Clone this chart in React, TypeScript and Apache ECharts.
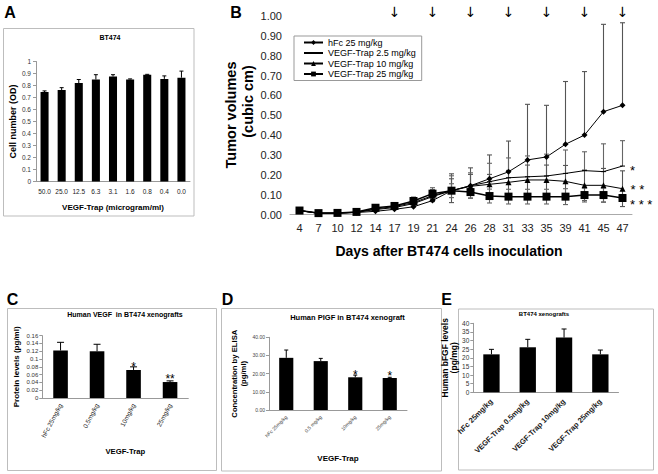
import React, { useEffect, useRef } from 'react';
import * as echarts from 'echarts';

const FONT = '"Liberation Sans", Arial, Helvetica, sans-serif';

// ---------- Panel A ----------
const aCategories = ['50.0', '25.0', '12.5', '6.3', '3.1', '1.6', '0.8', '0.4', '0.0'];
const aValues = [0.745, 0.762, 0.82, 0.85, 0.875, 0.85, 0.89, 0.855, 0.865];
const aErrors = [0.01, 0.02, 0.03, 0.04, 0.015, 0.005, 0.003, 0.025, 0.055];

// ---------- Panel B ----------
const bDays = ['4', '7', '10', '12', '14', '17', '19', '21', '24', '26', '28', '31', '33', '35', '39', '41', '45', '47'];
const bDoseDays = ['17', '21', '26', '31', '35', '41', '47'];
const bNames = ['hFc 25 mg/kg', 'VEGF-Trap 2.5 mg/kg', 'VEGF-Trap 10 mg/kg', 'VEGF-Trap 25 mg/kg'];
const bHfc = [0.02, 0.006, 0.006, 0.01, 0.016, 0.026, 0.039, 0.07, 0.12, 0.145, 0.18, 0.215, 0.275, 0.29, 0.354, 0.4, 0.518, 0.55];
const bTrap2p5 = [0.02, 0.006, 0.007, 0.011, 0.025, 0.035, 0.055, 0.09, 0.12, 0.145, 0.165, 0.185, 0.19, 0.194, 0.207, 0.221, 0.216, 0.244];
const bTrap10 = [0.02, 0.006, 0.007, 0.012, 0.028, 0.04, 0.06, 0.095, 0.12, 0.142, 0.152, 0.162, 0.174, 0.174, 0.167, 0.147, 0.147, 0.13];
const bTrap25 = [0.02, 0.007, 0.008, 0.013, 0.034, 0.043, 0.068, 0.105, 0.12, 0.113, 0.093, 0.09, 0.09, 0.09, 0.09, 0.098, 0.098, 0.083];
const bHfcErr = [0.005, 0.003, 0.003, 0.004, 0.006, 0.012, 0.018, 0.03, 0.085, 0.09, 0.12, 0.155, 0.28, 0.26, 0.316, 0.32, 0.44, 0.416];
const bTrap2p5Err = [0.005, 0.003, 0.003, 0.004, 0.008, 0.015, 0.02, 0.03, 0.075, 0.065, 0.093, 0.1, 0.105, 0.11, 0.118, 0.095, 0.14, 0.128];
const bTrap10Err = [0.005, 0.003, 0.003, 0.004, 0.008, 0.015, 0.02, 0.03, 0.06, 0.06, 0.05, 0.06, 0.075, 0.075, 0.08, 0.077, 0.085, 0.09];
const bTrap25Err = [0.005, 0.003, 0.003, 0.004, 0.008, 0.015, 0.02, 0.03, 0.035, 0.03, 0.035, 0.037, 0.037, 0.037, 0.04, 0.035, 0.035, 0.01];
const bStars = ['', '*', '* *', '* * *'];

// ---------- Panel C ----------
const cCategories = ['hFc 25mg/kg', '0.5mg/kg', '10mg/kg', '25mg/kg'];
const cValues = [0.122, 0.12, 0.072, 0.041];
const cErrors = [0.021, 0.018, 0.008, 0.003];
const cStars = ['', '', '*', '**'];

// ---------- Panel D ----------
const dCategories = ['hFc 25mg/kg', '0.5 mg/kg', '10mg/kg', '25mg/kg'];
const dValues = [28.7, 26.9, 18.0, 17.6];
const dErrors = [4.3, 1.5, 1.2, 0.4];
const dStars = ['', '', '*', '*'];

// ---------- Panel E ----------
const eCategories = ['hFc 25mg/kg', 'VEGF-Trap 0.5mg/kg', 'VEGF-Trap 10mg/kg', 'VEGF-Trap 25mg/kg'];
const eValues = [22.0, 26.1, 31.7, 22.0];
const eErrors = [2.9, 4.6, 5.0, 2.5];

function errorSeries(xIdx: number, yIdx: number, values: number[], errors: number[], cap: number, color: string, width: number, both: boolean, z = 3) {
  return {
    type: 'custom',
    xAxisIndex: xIdx,
    yAxisIndex: yIdx,
    silent: true,
    z,
    encode: { x: 0, y: 1 },
    data: values.map((v, i) => [i, v, errors[i]]),
    renderItem: (params: any, api: any) => {
      const i = api.value(0);
      const v = api.value(1);
      const e = api.value(2);
      const hi = api.coord([i, v + e]);
      const lo = api.coord([i, both ? v - e : v]);
      const h = cap / 2;
      const style = { stroke: color, lineWidth: width };
      const children: any[] = [
        { type: 'line', shape: { x1: hi[0], y1: hi[1], x2: lo[0], y2: lo[1] }, style },
        { type: 'line', shape: { x1: hi[0] - h, y1: hi[1], x2: hi[0] + h, y2: hi[1] }, style },
      ];
      if (both) children.push({ type: 'line', shape: { x1: lo[0] - h, y1: lo[1], x2: lo[0] + h, y2: lo[1] }, style });
      return { type: 'group', children };
    },
  };
}

function starBars(values: number[], stars: string[], fontSize: number, offsetY: number) {
  return values.map((v, i) =>
    stars[i]
      ? { value: v, label: { show: true, formatter: stars[i], position: 'top', distance: 0, offset: [0, offsetY], fontSize, color: '#000', fontFamily: FONT } }
      : v
  );
}

function withEndLabel(values: number[], text: string, distance: number, offsetY: number) {
  return values.map((v, i) =>
    i === values.length - 1 && text
      ? { value: v, label: { show: true, formatter: text, position: 'right', distance, offset: [0, offsetY], fontSize: 13, color: '#000', fontFamily: FONT } }
      : v
  );
}

const grayAxis = { lineStyle: { color: '#999', width: 1 } };

function txt(text: string, x: number, y: number, fontSize: number, bold: boolean, rotation = 0) {
  return {
    type: 'text',
    x,
    y,
    rotation,
    silent: true,
    style: {
      text,
      fontSize,
      fontWeight: bold ? 'bold' : 'normal',
      fontFamily: FONT,
      fill: '#000',
      textAlign: 'center',
      textVerticalAlign: 'middle',
      align: 'center',
      verticalAlign: 'middle',
    },
  };
}

function box(x: number, y: number, w: number, h: number) {
  return { type: 'rect', silent: true, z: -1, shape: { x, y, width: w, height: h }, style: { fill: 'none', stroke: '#bdbdbd', lineWidth: 1 } };
}

export default function App() {
  const ref = useRef<HTMLDivElement>(null);
  useEffect(() => {
    if (!ref.current) return;
    const chart = echarts.init(ref.current, null, { renderer: 'svg' });
    const option: any = {
      animation: false,
      backgroundColor: '#fff',
      textStyle: { fontFamily: FONT },
      grid: [
        { left: 36, top: 61.5, width: 154, height: 120 },
        { left: 290, top: 16, width: 342, height: 198.5 },
        { left: 42.3, top: 335.7, width: 146, height: 62.3 },
        { left: 269, top: 337.3, width: 138, height: 72.7 },
        { left: 473.3, top: 323.3, width: 145.2, height: 69 },
      ],
      legend: {
        data: [
          { name: bNames[0] },
          { name: bNames[1], itemStyle: { opacity: 0 } },
          { name: bNames[2] },
          { name: bNames[3] },
        ],
        left: 294,
        top: 36,
        orient: 'vertical',
        itemWidth: 19,
        itemHeight: 6,
        itemGap: 1.5,
        padding: [2, 6, 2, 9],
        borderColor: '#999',
        borderWidth: 1,
        backgroundColor: '#fff',
        selectedMode: false,
        textStyle: { fontSize: 9, color: '#000', fontFamily: FONT },
      },
      xAxis: [
        {
          gridIndex: 0, type: 'category', data: aCategories,
          axisLine: grayAxis, axisTick: { length: 3, lineStyle: { color: '#999' } },
          axisLabel: { interval: 0, fontSize: 6.5, color: '#222', margin: 6 },
          name: 'VEGF-Trap (microgram/ml)', nameLocation: 'middle', nameGap: 22,
          nameTextStyle: { fontSize: 8, fontWeight: 'bold', color: '#000' },
        },
        {
          gridIndex: 1, type: 'category', data: bDays,
          axisLine: { lineStyle: { color: '#aaa' } }, axisTick: { length: 4, lineStyle: { color: '#aaa' } },
          axisLabel: { interval: 0, fontSize: 11, color: '#222', margin: 8 },
          name: 'Days after BT474 cells inoculation', nameLocation: 'middle', nameGap: 29,
          nameTextStyle: { fontSize: 14, fontWeight: 'bold', color: '#000', padding: [0, 24, 0, 0] },
        },
        {
          gridIndex: 2, type: 'category', data: cCategories,
          axisLine: grayAxis, axisTick: { length: 3, lineStyle: { color: '#999' } },
          axisLabel: { interval: 0, rotate: 62, fontSize: 6.5, color: '#222', margin: 6 },
          name: 'VEGF-Trap', nameLocation: 'middle', nameGap: 49,
          nameTextStyle: { fontSize: 7.7, fontWeight: 'bold', color: '#000', padding: [0, 0, 0, 20] },
        },
        {
          gridIndex: 3, type: 'category', data: dCategories,
          axisLine: grayAxis, axisTick: { length: 3, lineStyle: { color: '#999' } },
          axisLabel: { interval: 0, rotate: 45, fontSize: 5, color: '#444', margin: 6 },
          name: 'VEGF-Trap', nameLocation: 'middle', nameGap: 44,
          nameTextStyle: { fontSize: 8, fontWeight: 'bold', color: '#000' },
        },
        {
          gridIndex: 4, type: 'category', data: eCategories,
          axisLine: grayAxis, axisTick: { length: 3, lineStyle: { color: '#999' } },
          axisLabel: { interval: 0, rotate: 45, fontSize: 7.5, fontWeight: 'bold', color: '#222', margin: 8 },
        },
        {
          gridIndex: 1, type: 'category', position: 'top', data: bDays,
          axisLine: { show: false }, axisTick: { show: false },
          axisLabel: {
            interval: 0, fontSize: 14, color: '#000', margin: -3,
            fontFamily: '"DejaVu Sans", sans-serif',
            formatter: (v: string) => (bDoseDays.includes(v) ? '↓' : ''),
          },
        },
      ],
      yAxis: [
        {
          gridIndex: 0, type: 'value', min: 0, max: 1, interval: 0.1,
          axisLine: { show: true, ...grayAxis }, axisTick: { show: true, length: 3, lineStyle: { color: '#999' } },
          splitLine: { show: false },
          axisLabel: { fontSize: 6.5, color: '#333', margin: 5 },
          name: 'Cell number (OD)', nameLocation: 'middle', nameGap: 19,
          nameTextStyle: { fontSize: 9, fontWeight: 'bold', color: '#000' },
        },
        {
          gridIndex: 1, type: 'value', min: 0, max: 1, interval: 0.1,
          axisLine: { show: false }, axisTick: { show: false }, splitLine: { show: false },
          axisLabel: { fontSize: 11, color: '#222', margin: 8, formatter: (v: number) => v.toFixed(2) },
        },
        {
          gridIndex: 2, type: 'value', min: 0, max: 0.16, interval: 0.02,
          axisLine: { show: true, ...grayAxis }, axisTick: { show: true, length: 3, lineStyle: { color: '#999' } },
          splitLine: { show: false },
          axisLabel: { fontSize: 6, color: '#333', margin: 4 },
          name: 'Protein levels (pg/ml)', nameLocation: 'middle', nameGap: 22,
          nameTextStyle: { fontSize: 8, fontWeight: 'bold', color: '#000' },
        },
        {
          gridIndex: 3, type: 'value', min: 0, max: 40, interval: 10,
          axisLine: { show: true, ...grayAxis }, axisTick: { show: true, length: 3, lineStyle: { color: '#999' } },
          splitLine: { show: false },
          axisLabel: { fontSize: 5, color: '#444', margin: 4, formatter: (v: number) => v.toFixed(2) },
          name: 'Concentration by ELISA\n(pg/ml)', nameLocation: 'middle', nameGap: 16,
          nameTextStyle: { fontSize: 7.7, fontWeight: 'bold', color: '#000', lineHeight: 9.5 },
        },
        {
          gridIndex: 4, type: 'value', min: 0, max: 40, interval: 5,
          axisLine: { show: true, ...grayAxis }, axisTick: { show: true, length: 3, lineStyle: { color: '#999' } },
          splitLine: { show: false },
          axisLabel: { fontSize: 6.5, color: '#333', margin: 4 },
          name: 'Human bFGF levels\n(pg/mg)', nameLocation: 'middle', nameGap: 12,
          nameTextStyle: { fontSize: 8.5, fontWeight: 'bold', color: '#000', lineHeight: 9 },
        },
      ],
      series: [
        // Panel A
        { type: 'bar', xAxisIndex: 0, yAxisIndex: 0, data: aValues, barWidth: '47%', itemStyle: { color: '#000' } },
        errorSeries(0, 0, aValues, aErrors, 4, '#000', 1, false),
        // Panel B
        errorSeries(1, 1, bHfc, bHfcErr, 5, '#555', 1.1, false, 1),
        errorSeries(1, 1, bTrap2p5, bTrap2p5Err, 5, '#666', 1.1, false, 1),
        errorSeries(1, 1, bTrap10, bTrap10Err, 5, '#555', 1.1, true, 1),
        errorSeries(1, 1, bTrap25, bTrap25Err, 5, '#666', 1.1, true, 1),
        {
          type: 'line', name: bNames[0], xAxisIndex: 1, yAxisIndex: 1, z: 4,
          data: withEndLabel(bHfc, bStars[0], 5, 0),
          symbol: 'diamond', symbolSize: 6, lineStyle: { color: '#000', width: 1 }, itemStyle: { color: '#000' },
        },
        {
          type: 'line', name: bNames[1], xAxisIndex: 1, yAxisIndex: 1, z: 4,
          data: withEndLabel(bTrap2p5, bStars[1], 5, 4.5),
          symbol: 'rect', symbolSize: [5, 1], lineStyle: { color: '#000', width: 1 }, itemStyle: { color: '#000' },
        },
        {
          type: 'line', name: bNames[2], xAxisIndex: 1, yAxisIndex: 1, z: 4,
          data: withEndLabel(bTrap10, bStars[2], 5, 1),
          symbol: 'triangle', symbolSize: 6, lineStyle: { color: '#000', width: 1 }, itemStyle: { color: '#000' },
        },
        {
          type: 'line', name: bNames[3], xAxisIndex: 1, yAxisIndex: 1, z: 4,
          data: withEndLabel(bTrap25, bStars[3], 3.5, 6),
          symbol: 'rect', symbolSize: 8, lineStyle: { color: '#000', width: 1.5 }, itemStyle: { color: '#000' },
        },
        // Panel C
        { type: 'bar', xAxisIndex: 2, yAxisIndex: 2, data: starBars(cValues, cStars, 12, 3), barWidth: '40%', itemStyle: { color: '#000' } },
        errorSeries(2, 2, cValues, cErrors, 7, '#000', 1, false),
        // Panel D
        { type: 'bar', xAxisIndex: 3, yAxisIndex: 3, data: starBars(dValues, dStars, 12, 4), barWidth: '41%', itemStyle: { color: '#000' } },
        errorSeries(3, 3, dValues, dErrors, 4, '#000', 1, false),
        // Panel E
        { type: 'bar', xAxisIndex: 4, yAxisIndex: 4, data: eValues, barWidth: '45%', itemStyle: { color: '#000' } },
        errorSeries(4, 4, eValues, eErrors, 5, '#000', 1, false),
      ],
      graphic: [
        box(3.5, 28.5, 190.5, 187.5),
        box(7.5, 308.5, 209, 162),
        box(221.5, 308.5, 220, 162.5),
        box(458.5, 309, 195, 161),
        txt('A', 10, 12, 16, true),
        txt('B', 236, 12, 16, true),
        txt('C', 12.5, 299, 16, true),
        txt('D', 227.5, 299, 16, true),
        txt('E', 446.7, 299, 16, true),
        txt('BT474', 110, 37, 7, true),
        txt('Human VEGF  in BT474 xenografts', 125, 314, 7, true),
        txt('Human PIGF in BT474 xenograft', 347.5, 317.3, 7.5, true),
        txt('BT474 xenografts', 544, 314, 6, true),
        txt('Tumor volumes', 231, 115, 14.5, true, Math.PI / 2),
        txt('(cubic cm)', 248, 101.5, 14.5, true, Math.PI / 2),
      ],
    };
    chart.setOption(option);
    return () => chart.dispose();
  }, []);
  return <div ref={ref} style={{ position: 'fixed', left: 0, top: 0, width: 658, height: 474, background: '#fff' }} />;
}
